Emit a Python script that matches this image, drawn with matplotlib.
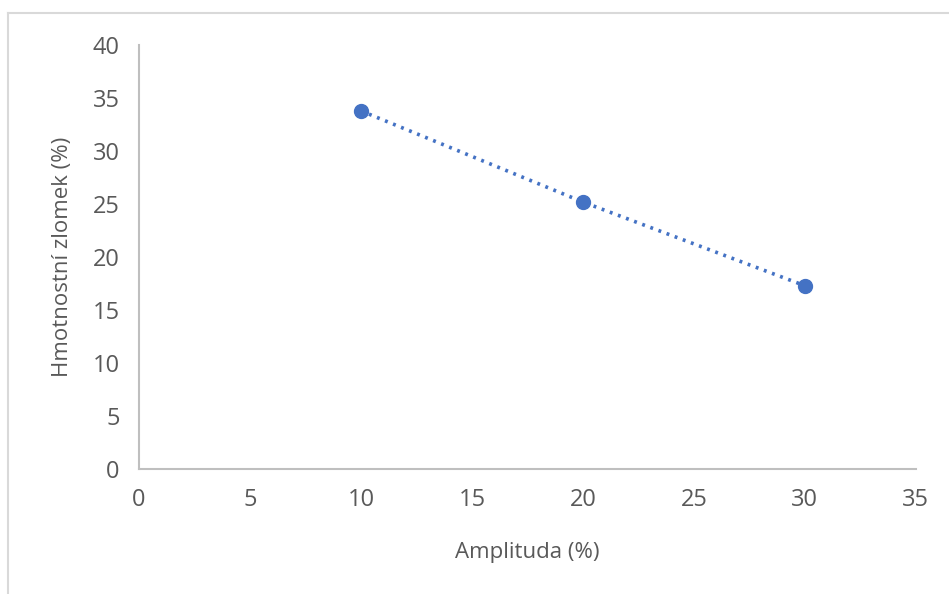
import matplotlib.pyplot as plt
from matplotlib.lines import Line2D

# data
amplitude = [10, 20, 30]
mass_fraction = [33.8, 25.2, 17.3]

x_ticks = [0, 5, 10, 15, 20, 25, 30, 35]
y_ticks = [0, 5, 10, 15, 20, 25, 30, 35, 40]

plt.rcParams['font.family'] = ['Open Sans', 'DejaVu Sans']

fig = plt.figure(figsize=(9.49, 5.94), dpi=100)
ax = fig.add_axes([0.1465, 0.2104, 0.965 - 0.1465, 0.924 - 0.2104])

ax.plot(amplitude, mass_fraction, linestyle=(0, (0.8, 1.6)), linewidth=2.6,
        color='#4472C4', marker='o', markersize=10, zorder=3)

ax.set_xlim(0, 35)
ax.set_ylim(0, 40)
ax.set_xticks(x_ticks)
ax.set_yticks(y_ticks)
ax.tick_params(length=0, labelsize=17, labelcolor='#595959', pad=14)

for side in ['top', 'right']:
    ax.spines[side].set_visible(False)
for side in ['left', 'bottom']:
    ax.spines[side].set_color('#BFBFBF')
    ax.spines[side].set_linewidth(1.5)

ax.set_xlabel('Amplituda (%)', fontsize=16, color='#595959', labelpad=21)
ax.set_ylabel('Hmotnostní zlomek (%)', fontsize=16, color='#595959', labelpad=14)

# chart frame (only top and left edges visible in the crop)
fig.add_artist(Line2D([0.0085, 1.0], [1 - 13 / 594, 1 - 13 / 594], color='#D9D9D9', linewidth=1.5))
fig.add_artist(Line2D([0.0085, 0.0085], [0.0, 1 - 13 / 594], color='#D9D9D9', linewidth=1.5))

fig.savefig('out.png', dpi=100)
